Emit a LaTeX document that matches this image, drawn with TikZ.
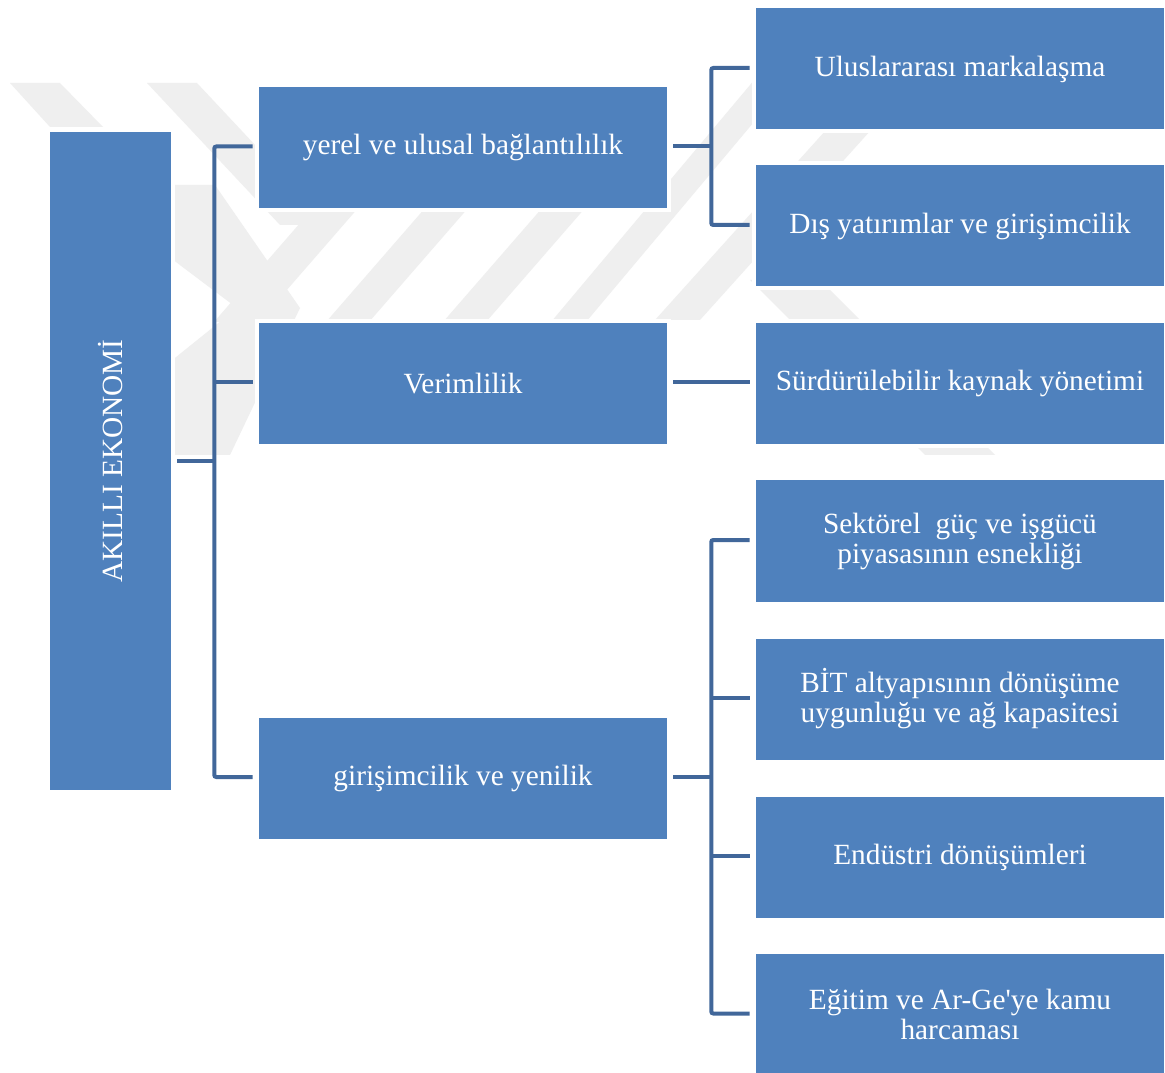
\documentclass[tikz,border=0pt]{standalone}
\usepackage{fontspec}
\setmainfont{Liberation Serif}
\usetikzlibrary{calc}
\definecolor{boxblue}{HTML}{4F81BD}
\definecolor{linkblue}{HTML}{41679A}
\definecolor{wmgray}{HTML}{EFEFEF}
\begin{document}
\begin{tikzpicture}[x=0.75pt,y=-0.75pt,
  box/.style={rectangle, fill=boxblue, text=white, inner sep=0pt,
    minimum width=306pt, minimum height=90.75pt, align=center,
    font=\fontsize{22}{22.5}\selectfont,
    preaction={draw=white, line width=6pt}},
  rootbox/.style={box, minimum width=90.75pt, minimum height=493.5pt,
    font=\fontsize{22}{24}\selectfont},
  conn/.style={draw=linkblue, line width=3pt, rounded corners=1.5pt},
  wm/.style={fill=wmgray}]
\useasboundingbox (0,0) rectangle (1165,1073);
\fill[white] (0,0) rectangle (1165,1073);

% pale emblem in the background
\fill[wm] (10,83)--(60,83)--(103,127)--(50,127)--cycle;
\fill[wm] (147,83)--(197,83)--(330,225)--(280,225)--cycle;
\fill[wm] (160,185)--(215,185)--(300,308)--(230,455)--(160,455)--(160,370)--(237,308)--(160,250)--cycle;
\fill[wm] (214,322)--(259,322)--(359,207)--(314,207)--cycle;
\fill[wm] (326,322)--(369,322)--(469,207)--(426,207)--cycle;
\fill[wm] (443,322)--(486,322)--(586,207)--(543,207)--cycle;
\fill[wm] (551,322)--(586,322)--(806,60)--(771,60)--cycle;
\fill[wm] (655,320)--(700,320)--(880,120)--(835,120)--cycle;
\fill[wm] (750,280)--(820,280)--(995,455)--(925,455)--cycle;

% boxes
\node[rootbox] (root) at (110.5,461) {\rotatebox{90}{AKILLI EKONOMİ}};

\node[box] (m1) at (463,147.5) {yerel ve ulusal bağlantılılık};
\node[box] (m2) at (463,383.5) {Verimlilik};
\node[box] (m3) at (463,778) {girişimcilik ve yenilik};

\node[box] (r1) at (960,69) {Uluslararası markalaşma};
\node[box] (r2) at (960,226) {Dış yatırımlar ve girişimcilik};
\node[box] (r3) at (960,383.5) {Sürdürülebilir kaynak yönetimi};
\node[box] (r4) at (960,541) {Sektörel\ \ güç ve işgücü\\piyasasının esnekliği};
\node[box] (r5) at (960,699) {BİT altyapısının dönüşüme\\uygunluğu ve ağ kapasitesi};
\node[box] (r6) at (960,857) {Endüstri dönüşümleri};
\node[box] (r7) at (960,1014.5) {Eğitim ve Ar-Ge\textquotesingle ye kamu\\harcaması};

% connectors: root to the middle column
\coordinate (j0) at ($(root.east)+(43,0)$);
\draw[conn] ($(root.east)+(6,0)$) -- (j0);
\draw[conn] ($(m1.west)+(-6,-1)$) -| (j0) |- ($(m3.west)+(-6,-1)$);
\draw[conn] ($(j0 |- m2.west)+(0,-1)$) -- ($(m2.west)+(-6,-1)$);

% connectors: middle column to the right column
\coordinate (j1) at ($(m1.east)+(44,-1)$);
\draw[conn] ($(m1.east)+(6,-1)$) -- (j1);
\draw[conn] ($(r1.west)+(-6,-1)$) -| (j1) |- ($(r2.west)+(-6,-1)$);

\draw[conn] ($(m2.east)+(6,-1)$) -- ($(r3.west)+(-6,-1)$);

\coordinate (j3) at ($(m3.east)+(44,-1)$);
\draw[conn] ($(m3.east)+(6,-1)$) -- (j3);
\draw[conn] ($(r4.west)+(-6,-1)$) -| (j3) |- ($(r7.west)+(-6,-1)$);
\draw[conn] ($(j3 |- r5.west)+(0,-1)$) -- ($(r5.west)+(-6,-1)$);
\draw[conn] ($(j3 |- r6.west)+(0,-1)$) -- ($(r6.west)+(-6,-1)$);
\end{tikzpicture}
\end{document}
